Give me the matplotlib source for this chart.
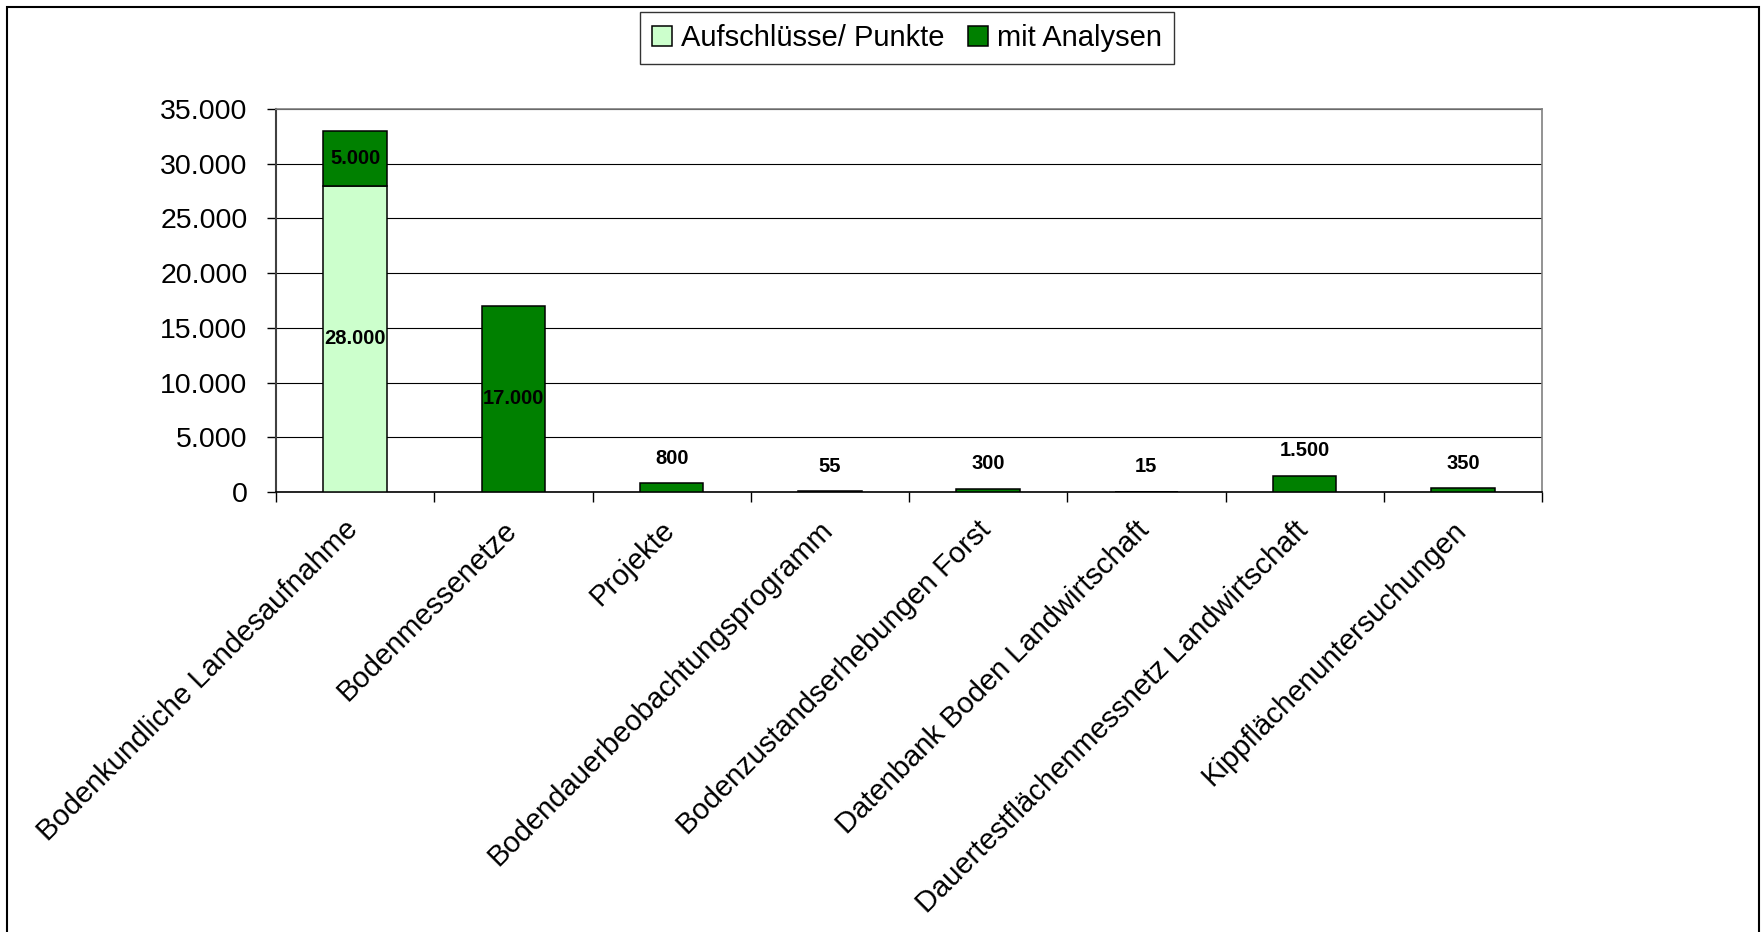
import numpy as np
import matplotlib.pyplot as plt
import matplotlib.transforms as mtransforms
from matplotlib.patches import Rectangle

plt.rcParams['font.family'] = ['Liberation Sans', 'DejaVu Sans']

# Daten
kategorien = ['Bodenkundliche Landesaufnahme', 'Bodenmessenetze', 'Projekte',
              'Bodendauerbeobachtungsprogramm', 'Bodenzustandserhebungen Forst',
              'Datenbank Boden Landwirtschaft', 'Dauertestflächenmessnetz Landwirtschaft',
              'Kippflächenuntersuchungen']
aufschluesse = [28000, 0, 0, 0, 0, 0, 0, 0]
analysen = [5000, 17000, 800, 55, 300, 15, 1500, 350]
reihen = ['Aufschlüsse/ Punkte', 'mit Analysen']
farben = ['#CCFFCC', '#008000']
y_ticks = [0, 5000, 10000, 15000, 20000, 25000, 30000, 35000]

def de_format(v):
  return f"{v:,.0f}".replace(",", ".")

fig = plt.figure(figsize=(17.61, 9.32), dpi=100)
ax = fig.add_axes([276/1761, 1-492/932, (1542-276)/1761, (492-109)/932])

x = np.arange(len(kategorien))
breite = 0.4
ax.bar(x, aufschluesse, breite, color=farben[0], edgecolor='black', linewidth=1.1,
       zorder=3, label=reihen[0])
ax.bar(x, analysen, breite, bottom=aufschluesse, color=farben[1], edgecolor='black',
       linewidth=1.1, zorder=3, label=reihen[1])

# Beschriftungen
for xi, a, b in zip(x, aufschluesse, analysen):
  if a > 0:
    ax.text(xi, a/2, de_format(a), ha='center', va='center', fontsize=14.5,
            fontweight='bold', zorder=4)
  if b >= 5000:
    ax.text(xi, a + b/2, de_format(b), ha='center', va='center', fontsize=14.5,
            fontweight='bold', zorder=4)
  else:
    ax.annotate(de_format(b), (xi, a + b), xytext=(0, 18), textcoords='offset points',
                ha='center', va='center', fontsize=14.5, fontweight='bold')

ax.set_xlim(-0.5, len(kategorien) - 0.5)
ax.set_ylim(0, 35000)
ax.set_yticks(y_ticks)
ax.set_yticklabels([de_format(v) for v in y_ticks], fontsize=20.5)
ax.tick_params(axis='y', length=6.5, width=1, pad=14, color='black')
ax.yaxis.grid(True, color='black', linewidth=0.8, zorder=0)

ax.set_xticks(x)
ax.set_xticklabels(kategorien, fontsize=21, rotation=45, ha='right', va='top',
                   rotation_mode='anchor')
ax.tick_params(axis='x', which='major', length=0, pad=17)
verschiebung = mtransforms.ScaledTranslation(-11/100, 0, fig.dpi_scale_trans)
for lbl in ax.get_xticklabels():
  lbl.set_transform(lbl.get_transform() + verschiebung)
ax.set_xticks(np.arange(-0.5, len(kategorien)), minor=True)
ax.tick_params(axis='x', which='minor', length=7, width=1, color='black')

for s in ['top', 'right']:
  ax.spines[s].set_color('#808080')
  ax.spines[s].set_linewidth(1.2)
ax.spines['left'].set_color('#404040')
ax.spines['left'].set_linewidth(1.5)
ax.spines['bottom'].set_color('black')
ax.spines['bottom'].set_linewidth(1.2)

leg = fig.legend(loc='center', bbox_to_anchor=(907/1761, 1-38/932), ncol=2,
                 fontsize=21, frameon=True, fancybox=False, handlelength=0.7,
                 handleheight=0.7, handletextpad=0.3, columnspacing=0.8,
                 borderpad=0.4)
leg.get_frame().set_edgecolor('black')
leg.get_frame().set_linewidth(1)

# Rahmen
fig.add_artist(Rectangle((7/1761, -0.05), (1759-7)/1761, 1.05 - 7/932,
                         transform=fig.transFigure, fill=False, ec='black', lw=1.5))

fig.savefig('out.png', dpi=100)
